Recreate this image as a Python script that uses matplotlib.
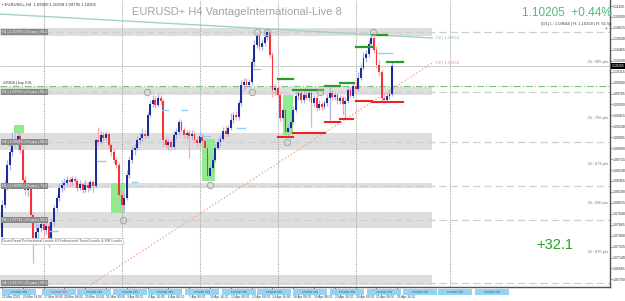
import matplotlib
matplotlib.use("Agg")
import matplotlib.pyplot as plt
from matplotlib.patches import Rectangle
from matplotlib.transforms import blended_transform_factory

plt.rcParams['font.family'] = ['Liberation Sans', 'DejaVu Sans']

# ---------------- data (EURUSD+ H4 candles) ----------------
opens = [1.07469, 1.07981, 1.08301, 1.08621, 1.08829, 1.09021, 1.08941, 1.09085, 1.08861, 1.08381,
         1.08221, 1.08285, 1.07821, 1.07453, 1.07549, 1.07613, 1.07677, 1.07581, 1.07645, 1.07421,
         1.07709, 1.07933, 1.08093, 1.08253, 1.08301, 1.08333, 1.08381, 1.08349, 1.08397, 1.08365,
         1.08253, 1.08317, 1.08221, 1.08301, 1.08253, 1.08349, 1.08285, 1.09021, 1.08989, 1.09101,
         1.09053, 1.09117, 1.08941, 1.08829, 1.08701, 1.08621, 1.08141, 1.07981, 1.08093, 1.08461,
         1.08701, 1.08861, 1.08893, 1.09021, 1.09053, 1.09117, 1.09085, 1.09421, 1.09597, 1.09661,
         1.09581, 1.09693, 1.09645, 1.09021, 1.08941, 1.08989, 1.08909, 1.09101, 1.09149, 1.09309,
         1.09181, 1.09101, 1.09133, 1.09085, 1.09117, 1.09021, 1.08973, 1.09085, 1.09005, 1.08893,
         1.08445, 1.08573, 1.08701, 1.08893, 1.08989, 1.09037, 1.09165, 1.09117, 1.09213, 1.09341,
         1.09421, 1.09389, 1.09613, 1.09901, 1.09949, 1.09901, 1.09949, 1.10269, 1.10541, 1.10685,
         1.10509, 1.10573, 1.10669, 1.10749, 1.10381, 1.09821, 1.09853, 1.09741, 1.09373, 1.09501,
         1.09149, 1.09213, 1.09309, 1.09501, 1.09725, 1.09773, 1.09661, 1.09741, 1.09693, 1.09773,
         1.09613, 1.09693, 1.09533, 1.09597, 1.09549, 1.09613, 1.09693, 1.09773, 1.09709, 1.09741,
         1.09645, 1.09693, 1.09597, 1.09645, 1.09821, 1.09725, 1.09885, 1.09837, 1.10013, 1.10173,
         1.10333, 1.10397, 1.10557, 1.10653, 1.10461, 1.10221, 1.10109, 1.09693, 1.09661, 1.09725,
         1.09757]
highs = [1.08061, 1.08381, 1.08701, 1.08893, 1.09149, 1.09213, 1.09149, 1.09133, 1.08941, 1.08445,
         1.08349, 1.08317, 1.07869, 1.07709, 1.07677, 1.07741, 1.07741, 1.07709, 1.07709, 1.07773,
         1.07981, 1.08141, 1.08333, 1.08381, 1.08413, 1.08445, 1.08429, 1.08445, 1.08445, 1.08413,
         1.08381, 1.08349, 1.08381, 1.08349, 1.08381, 1.08381, 1.09053, 1.09229, 1.09165, 1.09149,
         1.09165, 1.09149, 1.08973, 1.08893, 1.08749, 1.08669, 1.08221, 1.08157, 1.08541, 1.08765,
         1.08925, 1.08957, 1.09085, 1.09149, 1.09213, 1.09181, 1.09469, 1.09661, 1.09741, 1.09725,
         1.09757, 1.09741, 1.09677, 1.09069, 1.09037, 1.09037, 1.09165, 1.09213, 1.09357, 1.09341,
         1.09229, 1.09181, 1.09181, 1.09181, 1.09165, 1.09069, 1.09149, 1.09133, 1.09053, 1.08941,
         1.08621, 1.08765, 1.08957, 1.09053, 1.09101, 1.09229, 1.09245, 1.09261, 1.09453, 1.09469,
         1.09485, 1.09661, 1.09981, 1.10013, 1.10013, 1.09997, 1.10333, 1.10621, 1.10749, 1.10733,
         1.10637, 1.10733, 1.10797, 1.10781, 1.10429, 1.09917, 1.09901, 1.09789, 1.09565, 1.09533,
         1.09277, 1.09373, 1.09565, 1.09789, 1.09837, 1.09821, 1.09805, 1.09821, 1.09837, 1.09821,
         1.09741, 1.09741, 1.09661, 1.09645, 1.09661, 1.09757, 1.09869, 1.09821, 1.09789, 1.09773,
         1.09741, 1.09725, 1.09709, 1.09885, 1.09869, 1.09949, 1.09949, 1.10109, 1.10237, 1.10429,
         1.10461, 1.10621, 1.10717, 1.10685, 1.10525, 1.10301, 1.10141, 1.09757, 1.09773, 1.09821,
         1.10269]
lows = [1.07421, 1.07933, 1.08221, 1.08541, 1.08765, 1.08893, 1.08861, 1.08813, 1.08333, 1.08141,
        1.08125, 1.07773, 1.07053, 1.07341, 1.07453, 1.07549, 1.07485, 1.07517, 1.07309, 1.07373,
        1.07645, 1.07869, 1.08045, 1.08189, 1.08221, 1.08285, 1.08285, 1.08301, 1.08317, 1.08205,
        1.08221, 1.08173, 1.08189, 1.08189, 1.08221, 1.08189, 1.08253, 1.08941, 1.08957, 1.09005,
        1.09021, 1.08893, 1.08765, 1.08653, 1.08573, 1.08061, 1.07853, 1.07901, 1.08061, 1.08413,
        1.08653, 1.08781, 1.08861, 1.08957, 1.09005, 1.09037, 1.09053, 1.09389, 1.09549, 1.09533,
        1.09549, 1.09597, 1.08909, 1.08893, 1.08861, 1.08861, 1.08877, 1.09037, 1.09101, 1.09133,
        1.09053, 1.09037, 1.08733, 1.09021, 1.08973, 1.08909, 1.08941, 1.08957, 1.08845, 1.08381,
        1.08397, 1.08525, 1.08669, 1.08861, 1.08925, 1.09005, 1.09069, 1.09085, 1.09181, 1.09293,
        1.09341, 1.09341, 1.09565, 1.09821, 1.09853, 1.09853, 1.09901, 1.10205, 1.10493, 1.10461,
        1.10461, 1.10525, 1.10621, 1.10333, 1.09709, 1.09741, 1.09693, 1.09325, 1.09325, 1.09069,
        1.09085, 1.09181, 1.09277, 1.09469, 1.09661, 1.09613, 1.09613, 1.09661, 1.09645, 1.09229,
        1.09565, 1.09485, 1.09501, 1.09501, 1.09517, 1.09565, 1.09341, 1.09661, 1.09661, 1.09597,
        1.09597, 1.09421, 1.09373, 1.09613, 1.09693, 1.09693, 1.09789, 1.09805, 1.09981, 1.10141,
        1.10269, 1.10349, 1.10509, 1.10413, 1.10173, 1.10045, 1.09629, 1.09613, 1.09629, 1.09677,
        1.09725]
closes = [1.07981, 1.08301, 1.08621, 1.08829, 1.09021, 1.08941, 1.09085, 1.08861, 1.08381, 1.08221,
          1.08285, 1.07821, 1.07453, 1.07549, 1.07613, 1.07677, 1.07581, 1.07645, 1.07421, 1.07709,
          1.07933, 1.08093, 1.08253, 1.08301, 1.08333, 1.08381, 1.08349, 1.08397, 1.08365, 1.08253,
          1.08317, 1.08221, 1.08301, 1.08253, 1.08349, 1.08285, 1.09021, 1.08989, 1.09101, 1.09053,
          1.09117, 1.08941, 1.08829, 1.08701, 1.08621, 1.08141, 1.07981, 1.08093, 1.08461, 1.08701,
          1.08861, 1.08893, 1.09021, 1.09053, 1.09117, 1.09085, 1.09421, 1.09597, 1.09661, 1.09581,
          1.09693, 1.09645, 1.09021, 1.08941, 1.08989, 1.08909, 1.09101, 1.09149, 1.09309, 1.09181,
          1.09101, 1.09133, 1.09085, 1.09117, 1.09021, 1.08973, 1.09085, 1.09005, 1.08893, 1.08445,
          1.08573, 1.08701, 1.08893, 1.08989, 1.09037, 1.09165, 1.09117, 1.09213, 1.09341, 1.09421,
          1.09389, 1.09613, 1.09901, 1.09949, 1.09901, 1.09949, 1.10269, 1.10541, 1.10685, 1.10509,
          1.10573, 1.10669, 1.10749, 1.10381, 1.09821, 1.09853, 1.09741, 1.09373, 1.09501, 1.09149,
          1.09213, 1.09309, 1.09501, 1.09725, 1.09773, 1.09661, 1.09741, 1.09693, 1.09773, 1.09613,
          1.09693, 1.09533, 1.09597, 1.09549, 1.09613, 1.09693, 1.09773, 1.09709, 1.09741, 1.09645,
          1.09693, 1.09597, 1.09645, 1.09821, 1.09725, 1.09885, 1.09837, 1.10013, 1.10173, 1.10333,
          1.10397, 1.10557, 1.10653, 1.10461, 1.10221, 1.10109, 1.09693, 1.09661, 1.09725, 1.09757,
          1.10205]

# time axis labels (bar index -> text)
time_tick_idx = [0, 8, 16, 24, 32, 40, 48, 56, 64, 72, 80, 88, 96, 104, 112, 120, 128, 136, 144, 152]
time_tick_txt = ["22 Mar 2023", "23 Mar 16:00", "27 Mar 00:00", "28 Mar 08:00", "29 Mar 16:00",
                 "31 Mar 00:00", "3 Apr 08:00", "4 Apr 16:00", "6 Apr 00:00", "7 Apr 08:00",
                 "10 Apr 16:00", "12 Apr 00:00", "13 Apr 08:00", "14 Apr 16:00", "18 Apr 00:00",
                 "19 Apr 08:00", "20 Apr 16:00", "24 Apr 00:00", "25 Apr 08:00", "26 Apr 16:00"]
price_ticks = [1.11165, 1.10990, 1.10815, 1.10640, 1.10465, 1.10290, 1.10115, 1.09940, 1.09765,
               1.09590, 1.09415, 1.09240, 1.09065, 1.08890, 1.08715, 1.08540, 1.08365, 1.08190,
               1.08015, 1.07840, 1.07665, 1.07490, 1.07315, 1.07140, 1.06965, 1.06790]
last_price = 1.10205
separators_idx = [16, 46, 76, 106, 136, 172.3]

# supply/demand zones: (top, bottom, mid level)
zone_top = [1.10813, 1.09869, 1.09133, 1.08333, 1.07869, 1.06861]
zone_bot = [1.10685, 1.09741, 1.08861, 1.08253, 1.07613, 1.06701]
zone_mid = [1.10749, 1.09789, 1.08989, 1.08285, 1.07741, 1.06733]
zone_labels = ["H1 | 1.10749 | 20 pips | 96.1", "H1 | 1.09789 | 20 pips | 96.1",
               "H4 | 1.08989 | 43 pips | 98.4", "H1 | 1.08285 | 13 pips | 71.0",
               "H4 | 1.07741 | 40 pips | 94.2", "H4 | 1.06733 | 25 pips | 99.1"]
zone_end_idx = 165.4

# green highlight boxes (start idx, end idx, top, bottom)
gbox_x0 = [4.6, 41.9, 76.9, 108.1]
gbox_x1 = [8.5, 47.3, 81.9, 111.9]
gbox_top = [1.09261, 1.08333, 1.09037, 1.09741]
gbox_bot = [1.09133, 1.07853, 1.08365, 1.09101]

# resistance (green) and support (red) step levels
res_x0 = [106.2, 111.9, 124.2, 130.0, 136.2, 142.3, 148.1]
res_x1 = [111.9, 123.5, 130.0, 135.4, 142.3, 148.1, 154.2]
res_px = [1.09997, 1.09821, 1.09885, 1.09933, 1.10509, 1.10701, 1.10269]
sup_x0 = [106.2, 111.9, 124.2, 130.0, 136.2, 142.3]
sup_x1 = [111.9, 124.2, 130.0, 135.0, 142.3, 154.2]
sup_px = [1.09069, 1.09133, 1.09309, 1.09357, 1.09645, 1.09629]

# fractal circles
circ_idx = [3.1, 55.8, 46.5, 80.0, 96.2, 98.1, 101.9, 109.6, 122.3, 142.7]
circ_px = [1.08989, 1.09789, 1.07741, 1.08301, 1.09789, 1.10749, 1.10749, 1.08989, 1.09789, 1.10749]

# short light-blue marks
mark_x0 = [4.2, 18.5, 36.5, 50.0, 61.5, 69.2, 76.2, 90.4, 96.5, 144.6]
mark_x1 = [9.6, 21.5, 39.6, 51.9, 63.8, 71.2, 80.0, 93.5, 99.2, 150.0]
mark_px = [1.08973, 1.07565, 1.08685, 1.08349, 1.09501, 1.09501, 1.09085, 1.09213, 1.10157, 1.10413]

# trend lines
tl_green_idx = [-0.77, 165.4]
tl_green_px = [1.11037, 1.10653]
tl_orange_idx = [33.8, 165.4]
tl_orange_px = [1.06701, 1.10253]
order_level = 1.09885

dr_prices = [1.10269, 1.09373, 1.08637, 1.08013, 1.07229]
dr_texts = ["Dr: 505 pts", "Dr: 766 pts", "Dr: 673 pts", "Dr: 520 pts", "Dr: 970 pts"]

# ---------------- figure ----------------
W, H = 625, 301
fig = plt.figure(figsize=(W / 100, H / 100), dpi=100)
fig.patch.set_facecolor('white')
ax = fig.add_axes([0, 14 / H, 610 / W, 287 / H])
ax.set_facecolor('white')
ax.set_xlim(-0.77, 233.8)
ax.set_ylim(1.06669, 1.11261)

def fx(px):
    return px / W

def fy(py):
    return 1 - py / H

# zones
for t, b, m, lab in zip(zone_top, zone_bot, zone_mid, zone_labels):
    ax.add_patch(Rectangle((-0.77, b), zone_end_idx + 0.77, t - b, facecolor='#dedede',
                           edgecolor='none', zorder=1))
    ax.axhline(m, color='#cfcfcf', lw=0.9, ls=(0, (6, 3)), zorder=1.5)
    ax.text(0.0, m, lab, fontsize=2.6, color='white', va='center', ha='left', zorder=6,
            bbox=dict(boxstyle='square,pad=0.25', facecolor='#8a8a8a', edgecolor='none'))

# separators
for s in separators_idx:
    ax.axvline(s, color='#a8a8a8', lw=0.8, ls=(0, (1, 1)), zorder=1.2)

# current price line and order line
ax.axhline(last_price, color='#cccccc', lw=0.7, zorder=1.3)
ax.axhline(order_level, color='#6cc86c', lw=0.8, ls=(0, (6, 2, 1, 2)), zorder=1.4)
ax.text(0.3, order_level + 0.0002, "#35828 | buy 0.01", fontsize=2.6, color='#333333',
        va='bottom', ha='left', zorder=6)

# green boxes
for a0, a1, t, b in zip(gbox_x0, gbox_x1, gbox_top, gbox_bot):
    ax.add_patch(Rectangle((a0, b), a1 - a0, t - b, facecolor='#8fec8f', edgecolor='none', zorder=2))

# trend lines
ax.plot(tl_green_idx, tl_green_px, color='#9fd4b5', lw=1.0, zorder=2.5)
ax.plot(tl_orange_idx, tl_orange_px, color='#f5a98a', lw=1.0, ls=(0, (1, 1.5)), zorder=2.5)
ax.text(tl_green_idx[1] + 1, tl_green_px[1], "T/2 | 1.10653", fontsize=3, color='#7fbf9a',
        va='center', ha='left', zorder=6)
ax.text(tl_orange_idx[1] + 1, tl_orange_px[1], "T/2 | 1.10253", fontsize=3, color='#f08a70',
        va='center', ha='left', zorder=6)

# candles
xs = list(range(len(closes)))
bull_body, bear_body = '#1c2c9c', '#f3323e'
bull_wick, bear_wick = '#aab4dc', '#f6a9ae'
for i in xs:
    up = closes[i] >= opens[i]
    ax.vlines(i, lows[i], highs[i], color=bull_wick if up else bear_wick, lw=0.9, zorder=3)
bar_col = [bull_body if c >= o else bear_body for o, c in zip(opens, closes)]
heights = [c - o if abs(c - o) > 0.00004 else 0.00004 for o, c in zip(opens, closes)]
ax.bar(xs, heights, bottom=opens, width=0.72, color=bar_col, edgecolor='none', zorder=4)

# level marks
for a0, a1, p in zip(mark_x0, mark_x1, mark_px):
    ax.plot([a0, a1], [p, p], color='#8ccff7', lw=1.0, zorder=4.5)
for a0, a1, p in zip(res_x0, res_x1, res_px):
    ax.plot([a0, a1], [p, p], color='#2a9a2a', lw=1.6, zorder=5)
for a0, a1, p in zip(sup_x0, sup_x1, sup_px):
    ax.plot([a0, a1], [p, p], color='#ee2424', lw=1.5, zorder=5)

ax.plot(circ_idx, circ_px, ls='none', marker='o', ms=4.5, mfc='none', mec='#a8a8a8', mew=0.8,
        zorder=5)

# info box
ax.text(0.0, 1.07405, "DoomTrend Professional Levels & Professional Trend Levels & S/R Levels",
        fontsize=2.6, color='#555555', va='center', ha='left', zorder=6,
        bbox=dict(boxstyle='square,pad=0.3', facecolor='white', edgecolor='#bdbdbd', lw=0.5))

# Dr labels
tr = blended_transform_factory(ax.transAxes, ax.transData)
for p, t in zip(dr_prices, dr_texts):
    ax.text(0.997, p, t, transform=tr, fontsize=3, color='#777777', ha='right', va='center', zorder=6)

# axes styling
for s in ['top', 'left']:
    ax.spines[s].set_visible(False)
ax.spines['bottom'].set_color('#555555')
ax.spines['right'].set_color('#555555')
ax.spines['bottom'].set_linewidth(1.0)
ax.spines['right'].set_linewidth(1.0)
ax.yaxis.tick_right()
ax.set_yticks(price_ticks)
ax.set_yticklabels(["%.5f" % v for v in price_ticks], fontsize=2.5, color='#333333')
ax.tick_params(axis='y', length=1.5, width=0.5, pad=0.8, colors='#555555', labelcolor='#333333')
ax.set_xticks(time_tick_idx)
ax.set_xticklabels(time_tick_txt, fontsize=2.3, color='#333333', ha='left')
ax.tick_params(axis='x', length=1.5, width=0.5, pad=4.2, colors='#555555', labelcolor='#333333')

# current price box
ax.text(1.003, last_price, "1.10205", transform=tr, fontsize=2.5, color='white', ha='left',
        va='center', zorder=7, clip_on=False,
        bbox=dict(boxstyle='square,pad=0.2', facecolor='black', edgecolor='none'))

# bottom session boxes
session_px = [2, 42, 77, 113, 148, 185, 222, 257, 293, 330, 367, 403, 438, 475]
for k, sx in enumerate(session_px):
    fig.patches.append(Rectangle((fx(sx), fy(295)), fx(34), 6 / H, transform=fig.transFigure,
                                 facecolor='#92d3f6', edgecolor='none', zorder=1))
    fig.text(fx(sx + 17), fy(292), "session info", fontsize=2.2,
             color='#d04040' if k == 1 else '#3a5a8a', ha='center', va='center')

# header texts
fig.text(fx(2), fy(5), "\u25aa EURUSD+,H4  1.09920 1.10258 1.09795 1.10205", fontsize=3,
         color='#333333', ha='left', va='center')
fig.text(fx(132), fy(12), "EURUSD+ H4 VantageInternational-Live 8", fontsize=8,
         color='#a3a3a3', ha='left', va='center')
fig.text(fx(612), fy(13), "1.10205  +0.44%", fontsize=8.5, color='#4dbb80', ha='right', va='center')
fig.text(fx(612), fy(24), "(D1) L: 1.09644 | H: 1.10258 | R: 61.5p", fontsize=3, color='#444444',
         ha='right', va='center')
fig.text(fx(606), fy(28), "+", fontsize=4, color='#666666', ha='center', va='center')
fig.text(fx(573), fy(245), "+32.1", fontsize=10.5, color='#22a522', ha='right', va='center')

fig.savefig("out.png", dpi=100, facecolor='white')
